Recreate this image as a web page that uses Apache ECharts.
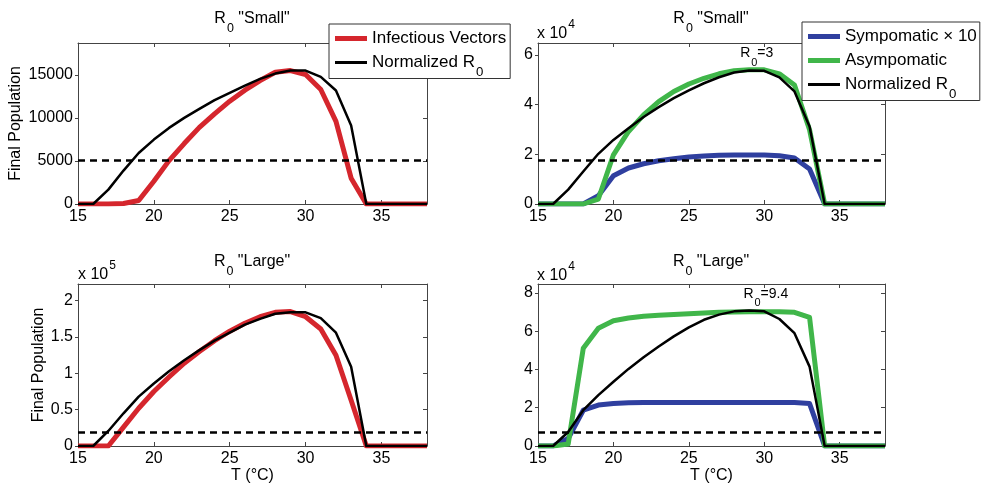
<!doctype html>
<meta charset="utf-8">
<title>Final population vs temperature</title>
<style>
  html, body { margin: 0; background: #fff; }
  #chart { width: 983px; height: 489px; }
</style>
<div id="chart"></div>
<script src="https://cdn.jsdelivr.net/npm/echarts@6/dist/echarts.min.js"></script>
<script>
  const temps = [15, 16, 17, 18, 19, 20, 21, 22, 23, 24, 25, 26, 27, 28, 29, 30, 31, 32, 33, 34, 35, 36, 37, 38];

  // R0 "Small"
  const vectorsSmall = [0, 0, 0, 50, 400, 2640, 5040, 7020, 8900, 10470, 11940, 13220, 14340, 15310, 15500, 15040, 13300, 9600, 3000, 0, 0, 0, 0, 0];
  const r0SmallVec = [0, 0, 1670, 3880, 5930, 7480, 8840, 10000, 11050, 12060, 12900, 13760, 14540, 15150, 15500, 15500, 14770, 13180, 9110, 0, 0, 0, 0, 0];
  const sympSmall = [0, 0, 0, 0, 3300, 11400, 14500, 16200, 17400, 18200, 18900, 19300, 19600, 19700, 19700, 19700, 19400, 18500, 14100, 0, 0, 0, 0, 0];
  const asympSmall = [0, 0, 0, 0, 2000, 19800, 29200, 35900, 41200, 45300, 48300, 50600, 52400, 53600, 54000, 54000, 52400, 47900, 29900, 0, 0, 0, 0, 0];
  const r0SmallHost = [0, 0, 5800, 13100, 20200, 25800, 30500, 35000, 39000, 42600, 45700, 48600, 51000, 52900, 53700, 53600, 51000, 45300, 31200, 0, 0, 0, 0, 0];

  // R0 "Large"
  const vectorsLarge = [0, 0, 0, 26000, 52000, 75000, 95000, 114000, 130000, 145000, 158000, 169000, 178000, 184000, 185000, 178000, 161000, 125000, 63000, 0, 0, 0, 0, 0];
  const r0LargeVec = [0, 0, 20700, 45000, 68000, 86000, 103000, 118000, 132000, 145000, 156000, 167000, 175000, 182000, 184000, 184000, 176000, 156000, 109000, 0, 0, 0, 0, 0];
  const sympLarge = [0, 0, 3900, 18700, 21400, 22200, 22600, 22800, 22800, 22800, 22800, 22800, 22800, 22800, 22800, 22800, 22800, 22800, 22200, 0, 0, 0, 0, 0];
  const asympLarge = [0, 0, 1000, 51100, 61600, 65500, 66900, 67800, 68300, 68700, 69200, 69500, 69900, 70000, 70200, 70200, 70200, 69900, 67200, 0, 0, 0, 0, 0];
  const r0LargeHost = [0, 0, 7300, 18700, 26600, 33600, 40300, 46400, 52000, 57300, 62000, 66000, 68700, 70400, 70800, 70400, 66400, 59000, 41500, 0, 0, 0, 0, 0];

  // dashed threshold per panel: TL, TR, BL, BR
  const thresholds = [5100, 17500, 18500, 7000];
  const yMax = [18700, 64800, 223000, 84700];
  const yStep = [5000, 20000, 50000, 20000];
  const yScale = [1, 1e4, 1e5, 1e4];
  const r0Labels = ['3', '9.4'];
  const r0LabelPos = [[29.5, 60600], [30.1, 79500]];

  const FONT = '"Liberation Sans", Arial, Helvetica, sans-serif';
  const RED = '#d5262d', GREEN = '#40b64a', BLUE = '#2f3f9f', BLACK = '#000';

  function rich(size, lh) {
    return {
      r: { fontSize: size, fontFamily: FONT, color: '#000', lineHeight: lh },
      s: { fontSize: size * 0.78, fontFamily: FONT, color: '#000', padding: [19, 0, 0, 1] },
      p: { fontSize: size * 0.75, fontFamily: FONT, color: '#000', padding: [0, 0, 19, 1] }
    };
  }

  const grids = [
    { left: 78, top: 43, width: 349, height: 161 },
    { left: 538, top: 43, width: 347, height: 161 },
    { left: 78, top: 284, width: 349, height: 162 },
    { left: 538, top: 284, width: 347, height: 162 }
  ];

  const frame = { show: true, onZero: false, lineStyle: { color: '#444', width: 1 } };
  const xAxes = [], yAxes = [];
  for (let i = 0; i < 4; i++) {
    xAxes.push({
      type: 'value', gridIndex: i, position: 'bottom', min: 15, max: 38, interval: 5,
      axisLine: frame, splitLine: { show: false },
      axisTick: { inside: true, length: 4, lineStyle: { color: '#444' } },
      axisLabel: {
        margin: 5, fontSize: 16, fontFamily: FONT, color: '#000', showMaxLabel: false,
        formatter: v => (v % 5 === 0 ? String(v) : '')
      },
      name: i >= 2 ? 'T (°C)' : '', nameLocation: 'middle', nameGap: 21,
      nameTextStyle: { fontSize: 16, fontFamily: FONT, color: '#000' }
    });
    yAxes.push({
      type: 'value', gridIndex: i, position: 'left', min: 0, max: yMax[i], interval: yStep[i],
      axisLine: frame, splitLine: { show: false },
      axisTick: { inside: false, length: 3, lineStyle: { color: '#444' } },
      axisLabel: {
        margin: 5, fontSize: 16, fontFamily: FONT, color: '#000', showMaxLabel: false,
        formatter: v => (v % yStep[i] === 0 ? String(+(v / yScale[i]).toFixed(2)) : '')
      },
      name: i % 2 === 0 ? 'Final Population' : '', nameLocation: 'middle',
      nameGap: i === 0 ? 54 : 31,
      nameTextStyle: { fontSize: 16, fontFamily: FONT, color: '#000' }
    });
  }
  for (let i = 0; i < 4; i++) {
    xAxes.push({
      type: 'value', gridIndex: i, position: 'top', min: 15, max: 38, interval: 5,
      axisLine: frame, splitLine: { show: false },
      axisTick: { inside: true, length: 4, lineStyle: { color: '#444' } },
      axisLabel: { show: false }
    });
    yAxes.push({
      type: 'value', gridIndex: i, position: 'right', min: 0, max: yMax[i], interval: yStep[i],
      axisLine: frame, splitLine: { show: false },
      axisTick: { inside: true, length: 4, lineStyle: { color: '#444' } },
      axisLabel: { show: false }
    });
  }

  function pairs(vals) { return temps.map((t, i) => [t, vals[i]]); }

  function curve(name, vals, panel, color, width, extra) {
    return Object.assign({
      type: 'line', name: name, xAxisIndex: panel, yAxisIndex: panel,
      data: pairs(vals), symbol: 'none', showSymbol: false, silent: true,
      lineStyle: { color: color, width: width, join: 'round' },
      itemStyle: { color: color },
      emphasis: { disabled: true }, animation: false
    }, extra || {});
  }

  function threshold(panel) {
    return {
      silent: true, symbol: ['none', 'none'], animation: false,
      label: { show: false },
      lineStyle: { color: '#000', type: [7, 5], width: 2.5 },
      data: [{ yAxis: thresholds[panel] }]
    };
  }

  function r0Mark(k) {
    return {
      silent: true, animation: false, symbol: 'circle', symbolSize: 0,
      label: {
        show: true, position: 'inside',
        formatter: '{r|R}{s|0}{r|=' + r0Labels[k] + '}',
        lineHeight: 20, rich: rich(14, 20)
      },
      data: [{ coord: r0LabelPos[k] }]
    };
  }

  const series = [
    curve('Infectious Vectors', vectorsSmall, 0, RED, 5, { markLine: threshold(0) }),
    curve('Normalized R0', r0SmallVec, 0, BLACK, 2.5),
    curve('Sympomatic × 10', sympSmall, 1, BLUE, 5, { markLine: threshold(1) }),
    curve('Asympomatic', asympSmall, 1, GREEN, 5, { markPoint: r0Mark(0) }),
    curve('Normalized R0', r0SmallHost, 1, BLACK, 2.5),
    curve('Infectious Vectors', vectorsLarge, 2, RED, 5, { markLine: threshold(2) }),
    curve('Normalized R0', r0LargeVec, 2, BLACK, 2.5),
    curve('Sympomatic × 10', sympLarge, 3, BLUE, 5, { markLine: threshold(3) }),
    curve('Asympomatic', asympLarge, 3, GREEN, 5, { markPoint: r0Mark(1) }),
    curve('Normalized R0', r0LargeHost, 3, BLACK, 2.5)
  ];

  function panelTitle(text, x, y) {
    return {
      text: text, left: x, top: y, textAlign: 'center', padding: 0,
      textStyle: { fontSize: 16, fontFamily: FONT, color: '#000', fontWeight: 'normal', lineHeight: 20, rich: rich(16, 20) }
    };
  }
  function expTitle(text, x, y) {
    return {
      text: text, left: x, top: y, padding: 0,
      textStyle: { fontSize: 16, fontFamily: FONT, color: '#000', fontWeight: 'normal', lineHeight: 20, rich: rich(16, 20) }
    };
  }

  const legendBase = {
    orient: 'vertical', itemWidth: 32, itemHeight: 14, itemGap: -1,
    backgroundColor: '#fff', borderColor: '#333', borderWidth: 1, borderRadius: 0,
    selectedMode: false,
    formatter: n => (n === 'Normalized R0' ? '{r|Normalized R}{s|0}' : n),
    textStyle: { fontSize: 17, fontFamily: FONT, color: '#000', lineHeight: 25, rich: rich(17, 25) }
  };
  const thick = 'path://M0,0H32V5H0Z', thin = 'path://M0,0H32V3H0Z';

  const option = {
    animation: false,
    backgroundColor: '#fff',
    grid: grids,
    xAxis: xAxes,
    yAxis: yAxes,
    title: [
      panelTitle('{r|R}{s|0}{r| "Small"}', 252, 9),
      panelTitle('{r|R}{s|0}{r| "Small"}', 711, 9),
      panelTitle('{r|R}{s|0}{r| "Large"}', 252, 252),
      panelTitle('{r|R}{s|0}{r| "Large"}', 711, 252),
      expTitle('{r|x 10}{p|4}', 537, 24),
      expTitle('{r|x 10}{p|5}', 78, 265),
      expTitle('{r|x 10}{p|4}', 537, 266)
    ],
    legend: [
      Object.assign({}, legendBase, {
        left: 329, top: 24, padding: [2, 4, 0, 6],
        data: [{ name: 'Infectious Vectors', icon: thick }, { name: 'Normalized R0', icon: thin }]
      }),
      Object.assign({}, legendBase, {
        left: 802, top: 22, padding: [2, 3, 0, 6],
        data: [{ name: 'Sympomatic × 10', icon: thick }, { name: 'Asympomatic', icon: thick }, { name: 'Normalized R0', icon: thin }]
      })
    ],
    series: series
  };

  const chart = echarts.init(document.getElementById('chart'), null, { renderer: 'canvas' });
  chart.setOption(option);
</script>
